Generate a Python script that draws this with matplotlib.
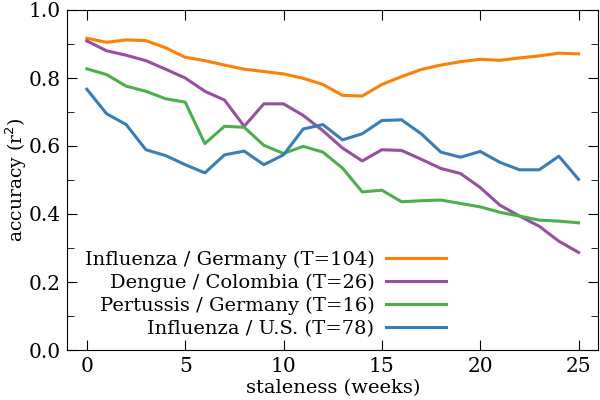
import numpy as np
import matplotlib.pyplot as plt
from matplotlib.ticker import MultipleLocator

weeks = np.arange(26)

flu_de = [0.917, 0.905, 0.912, 0.910, 0.889, 0.861, 0.851, 0.838, 0.826, 0.819,
          0.812, 0.799, 0.781, 0.749, 0.747, 0.781, 0.804, 0.825, 0.838, 0.848,
          0.855, 0.852, 0.859, 0.865, 0.873, 0.871]
dengue_co = [0.909, 0.880, 0.867, 0.851, 0.826, 0.800, 0.761, 0.735, 0.658, 0.724,
             0.724, 0.690, 0.645, 0.594, 0.556, 0.589, 0.587, 0.561, 0.534, 0.519,
             0.478, 0.426, 0.394, 0.364, 0.320, 0.287]
pertussis_de = [0.827, 0.810, 0.776, 0.761, 0.739, 0.729, 0.607, 0.658, 0.655, 0.602,
                0.578, 0.599, 0.582, 0.535, 0.465, 0.470, 0.436, 0.439, 0.441, 0.431,
                0.421, 0.405, 0.394, 0.382, 0.379, 0.374]
flu_us = [0.767, 0.695, 0.663, 0.589, 0.572, 0.545, 0.521, 0.574, 0.585, 0.545,
          0.574, 0.650, 0.663, 0.618, 0.636, 0.675, 0.677, 0.636, 0.582, 0.567,
          0.584, 0.552, 0.530, 0.530, 0.570, 0.502]

labels = ['Influenza / Germany (T=104)', 'Dengue / Colombia (T=26)',
          'Pertussis / Germany (T=16)', 'Influenza / U.S. (T=78)']
colors = ['#ff7f00', '#984ea3', '#4daf4a', '#377eb8']

plt.rcParams['font.family'] = 'DejaVu Serif'
plt.rcParams['font.size'] = 14

fig, ax = plt.subplots(figsize=(6, 4), dpi=100)
fig.subplots_adjust(left=0.112, right=0.997, top=0.975, bottom=0.125)

for y, lab, c in zip([flu_de, dengue_co, pertussis_de, flu_us], labels, colors):
    ax.plot(weeks, y, color=c, lw=2.2, label=lab)

ax.set_xlim(-1, 26)
ax.set_ylim(0, 1)
ax.xaxis.set_major_locator(MultipleLocator(5))
ax.yaxis.set_major_locator(MultipleLocator(0.2))
ax.yaxis.set_minor_locator(MultipleLocator(0.1))
ax.tick_params(which='both', direction='in', top=True, right=True)
ax.tick_params(which='major', length=7, pad=5, labelsize=14.5)
ax.tick_params(which='minor', length=5)
ax.tick_params(axis='x', which='minor', top=False, bottom=False)
ax.set_xlabel('staleness (weeks)', labelpad=2)
ax.set_ylabel('accuracy (r$^2$)', fontsize=13.5)
ax.yaxis.set_label_coords(-0.072, 0.5)

ax.legend(loc='lower left', bbox_to_anchor=(0.0, -0.015), frameon=False,
          markerfirst=False, handlelength=3.1, handletextpad=0.6,
          labelspacing=0.25, fontsize=14)

fig.savefig('out.png')
